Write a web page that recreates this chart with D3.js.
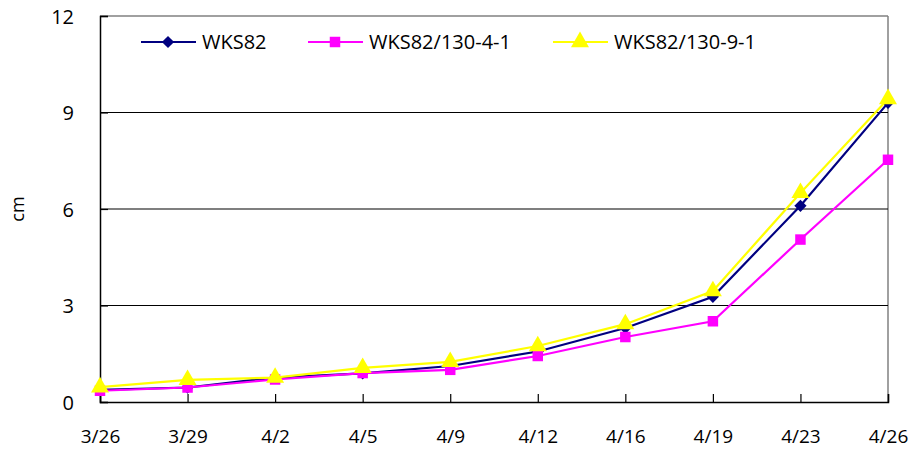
<!DOCTYPE html>
<html>
<head>
<meta charset="utf-8">
<script src="https://cdn.jsdelivr.net/npm/d3@7"></script>
<style>
  body { margin: 0; background: #fff; }
  text { font-family: "Open Sans", "Noto Sans", sans-serif; fill: #000; }
</style>
</head>
<body>
<div id="chart"></div>
<script>
// Data
const dates = ["3/26", "3/29", "4/2", "4/5", "4/9", "4/12", "4/16", "4/19", "4/23", "4/26"];
const wks82 = [0.38, 0.45, 0.76, 0.89, 1.12, 1.57, 2.3, 3.27, 6.1, 9.3];
const wks82_4_1 = [0.35, 0.45, 0.7, 0.9, 1.0, 1.43, 2.02, 2.51, 5.05, 7.53];
const wks82_9_1 = [0.46, 0.69, 0.76, 1.06, 1.25, 1.74, 2.42, 3.45, 6.5, 9.42];
const yTicks = [0, 3, 6, 9, 12];

const seriesNames = ["WKS82", "WKS82/130-4-1", "WKS82/130-9-1"];
const seriesColors = ["#000080", "#FF00FF", "#FFFF00"];
const seriesShapes = [d3.symbolDiamond2, d3.symbolSquare, d3.symbolTriangle];
const seriesSizes = [95, 110, 140];
const series = [wks82, wks82_4_1, wks82_9_1];

const W = 917, H = 457;
const margin = { top: 16, right: 29, bottom: 55, left: 100 };
const width = W - margin.left - margin.right,
      height = H - margin.top - margin.bottom;

const svg = d3.select("#chart").append("svg")
    .attr("width", W)
    .attr("height", H);

const g = svg.append("g")
    .attr("transform", "translate(" + margin.left + "," + margin.top + ")");

const x = d3.scalePoint().domain(dates).range([0, width]);
const y = d3.scaleLinear().domain([0, 12]).range([height, 0]);

// frame: gray top and right
g.append("line").attr("x1", 0).attr("x2", width).attr("y1", 0).attr("y2", 0)
    .attr("stroke", "#808080").attr("stroke-width", 1.5);
g.append("line").attr("x1", width).attr("x2", width).attr("y1", 0).attr("y2", height)
    .attr("stroke", "#808080").attr("stroke-width", 1.5);

// gridlines
g.selectAll(".grid")
    .data(yTicks.filter(d => d > 0 && d < 12))
  .enter().append("line")
    .attr("x1", 0).attr("x2", width)
    .attr("y1", d => y(d)).attr("y2", d => y(d))
    .attr("stroke", "#000").attr("stroke-width", 1.2);

// y axis
const yAxis = g.append("g")
    .call(d3.axisLeft(y).tickValues(yTicks).tickSize(-8).tickPadding(26));
yAxis.select(".domain").attr("stroke", "#000").attr("stroke-width", 1.5);
yAxis.selectAll(".tick line").attr("stroke", "#000").attr("stroke-width", 1.2);
yAxis.selectAll("text").style("font-size", "20px").attr("dy", "0.35em");

// x axis
const xAxis = g.append("g")
    .attr("transform", "translate(0," + height + ")")
    .call(d3.axisBottom(x).tickSize(-8).tickPadding(28));
xAxis.select(".domain").attr("stroke", "#000").attr("stroke-width", 1.5);
xAxis.selectAll(".tick line").attr("stroke", "#000").attr("stroke-width", 1.2);
xAxis.selectAll("text").style("font-size", "19px");

// y label
svg.append("text")
    .attr("transform", "translate(24," + (margin.top + height / 2) + ") rotate(-90)")
    .attr("text-anchor", "middle")
    .style("font-size", "18px")
    .text("cm");

const line = d3.line()
    .x((d, i) => x(dates[i]))
    .y(d => y(d));

series.forEach((vals, s) => {
  g.append("path")
      .datum(vals)
      .attr("fill", "none")
      .attr("stroke", seriesColors[s])
      .attr("stroke-width", 2.2)
      .attr("d", line);
  g.selectAll(".pt" + s)
      .data(vals)
    .enter().append("path")
      .attr("transform", (d, i) => "translate(" + x(dates[i]) + "," + y(d) + ")")
      .attr("d", d3.symbol().type(seriesShapes[s]).size(seriesSizes[s]))
      .attr("fill", seriesColors[s]);
});

// legend
const legendX = [141, 308, 553];
const legend = svg.selectAll(".legend")
    .data(seriesNames)
  .enter().append("g")
    .attr("transform", (d, i) => "translate(" + legendX[i] + ",42)");
legend.append("line")
    .attr("x1", 0).attr("x2", 55)
    .attr("stroke", (d, i) => seriesColors[i])
    .attr("stroke-width", 2);
legend.append("path")
    .attr("transform", "translate(27,0)")
    .attr("d", (d, i) => d3.symbol().type(seriesShapes[i]).size(seriesSizes[i])())
    .attr("fill", (d, i) => seriesColors[i]);
legend.append("text")
    .attr("x", 61)
    .attr("dy", "0.35em")
    .style("font-size", "20px")
    .text(d => d);
</script>
</body>
</html>
